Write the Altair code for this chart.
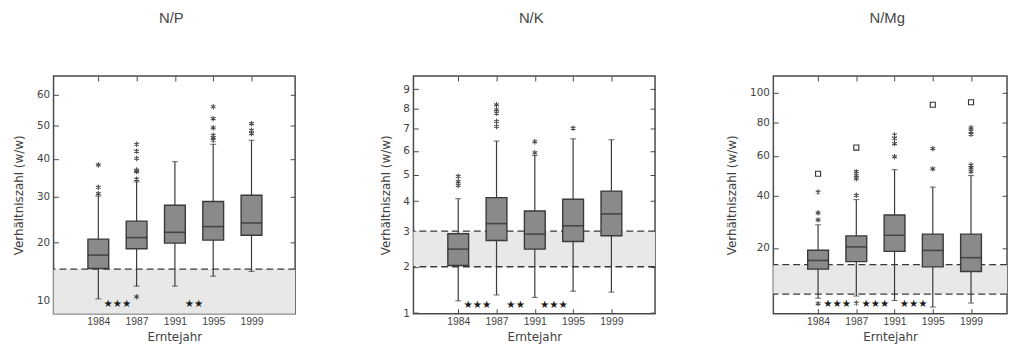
import json
import altair as alt
import pandas as pd

years = ["1984", "1987", "1991", "1995", "1999"]

# ---------------- N/P ----------------
np_q1 = [15.1, 18.7, 19.8, 20.4, 21.4]
np_med = [17.5, 20.9, 22.0, 23.2, 24.0]
np_q3 = [20.6, 24.4, 28.0, 28.9, 30.4]
np_lo = [10.3, 12.2, 12.2, 13.8, 14.6]
np_hi = [30.2, 33.8, 39.2, 44.2, 45.4]
np_out_year = ["1984", "1984", "1984",
               "1987", "1987", "1987", "1987", "1987", "1987", "1987",
               "1995", "1995", "1995", "1995", "1995", "1995",
               "1999", "1999", "1999"]
np_out_val = [30.8, 32.4, 38.3,
              10.6, 34.5, 36.5, 36.9, 40.1, 42.2, 44.2,
              45.4, 46.1, 46.9, 49.2, 52.1, 56.0,
              47.4, 48.4, 50.5]
np_ext_year = []
np_ext_val = []
np_band = [8.3, 15]
np_ref = [15]
np_sig_from = ["1984", "1991"]
np_sig_to = ["1987", "1995"]
np_sig = ["★★★", "★★"]
np_sig_y = 9.6
np_domain = [8.3, 66.7]
np_ticks = [10, 20, 30, 40, 50, 60]

# ---------------- N/K ----------------
nk_q1 = [2.03, 2.72, 2.47, 2.69, 2.86]
nk_med = [2.47, 3.24, 2.91, 3.17, 3.56]
nk_q3 = [2.92, 4.13, 3.66, 4.07, 4.37]
nk_lo = [1.23, 1.35, 1.30, 1.43, 1.41]
nk_hi = [4.09, 6.44, 5.80, 6.54, 6.50]
nk_out_year = ["1984", "1984", "1984",
               "1987", "1987", "1987", "1987", "1987",
               "1991", "1991",
               "1995"]
nk_out_val = [4.58, 4.73, 4.94,
              7.12, 7.36, 7.77, 7.94, 8.19,
              5.92, 6.41,
              7.04]
nk_ext_year = []
nk_ext_val = []
nk_band = [2, 3]
nk_ref = [2, 3]
nk_sig_from = ["1984", "1987", "1991"]
nk_sig_to = ["1987", "1991", "1995"]
nk_sig = ["★★★", "★★", "★★★"]
nk_sig_y = 1.15
nk_domain = [0.99, 9.73]
nk_ticks = [1, 2, 3, 4, 5, 6, 7, 8, 9]

# ---------------- N/Mg ----------------
nm_q1 = [13.8, 15.85, 18.9, 14.4, 13.2]
nm_med = [16.2, 20.3, 24.2, 19.2, 17.0]
nm_q3 = [19.25, 24.0, 31.8, 24.6, 24.6]
nm_lo = [7.2, 7.6, 6.75, 5.6, 6.3]
nm_hi = [28.0, 38.3, 52.6, 44.0, 49.6]
nm_out_year = ["1984", "1984", "1984", "1984",
               "1987", "1987", "1987", "1987", "1987",
               "1991", "1991", "1991", "1991",
               "1995", "1995",
               "1999", "1999", "1999", "1999", "1999", "1999"]
nm_out_val = [6.2, 29.9, 32.7, 41.7,
              6.3, 40.2, 48.0, 49.6, 51.6,
              59.5, 66.9, 70.0, 72.0,
              53.0, 64.0,
              51.6, 53.5, 55.0, 72.4, 74.4, 76.4]
nm_ext_year = ["1984", "1987", "1995", "1999"]
nm_ext_val = [50.5, 64.6, 91.4, 93.1]
nm_band = [8, 15]
nm_ref = [8, 15]
nm_sig_from = ["1984", "1987", "1991"]
nm_sig_to = ["1987", "1991", "1995"]
nm_sig = ["★★★", "★★★", "★★★"]
nm_sig_y = 6.1
nm_domain = [4.55, 112]
nm_ticks = [20, 40, 60, 80, 100]

# ---------------- styling ----------------
FONT = "Liberation Sans"
TFONT = "DejaVu Sans"
INK = "#3a3a3a"
TXT = "#3f3f3f"
BOX_FILL = "#8a8a8a"
BAND_FILL = "#e8e8e8"
STEP = 40.33
X0 = -0.04
PANEL_H = 240
ASTERISK = "M0,-1L0,1M-0.87,-0.5L0.87,0.5M-0.87,0.5L0.87,-0.5"


def make_panel(title, q1, med, q3, lo, hi, out_year, out_val, ext_year, ext_val,
               band, refs, sig_from, sig_to, sig_txt, sig_y, ydomain, yticks, width):
    idx = {y: i + 1 for i, y in enumerate(years)}
    box = pd.DataFrame({"i": [idx[y] for y in years], "q1": q1, "med": med,
                        "q3": q3, "lo": lo, "hi": hi})
    caps = pd.DataFrame({"i": [idx[y] for y in years] * 2, "v": list(lo) + list(hi)})
    outs = pd.DataFrame({"i": [idx[y] for y in out_year], "v": out_val})
    exts = pd.DataFrame({"i": [idx[y] for y in ext_year], "v": ext_val})
    band_df = pd.DataFrame({"lo": [band[0]], "hi": [band[1]]})
    ref_df = pd.DataFrame({"v": refs})
    sig_df = pd.DataFrame({"i": [(idx[a] + idx[b]) / 2 for a, b in zip(sig_from, sig_to)],
                           "v": [sig_y] * len(sig_txt), "t": sig_txt})

    ys = alt.Scale(type="sqrt", domain=ydomain, nice=False, zero=False)
    xs = alt.Scale(domain=[X0, X0 + width / STEP], nice=False, zero=False)
    label_expr = json.dumps(years).replace('"', "'") + "[datum.value - 1]"

    ax_left = alt.Axis(values=yticks, orient="left", title="Verhältniszahl (w/w)",
                       domain=False, grid=False, tickSize=5, offset=-5,
                       labelFont=TFONT, labelFontSize=10.5,
                       labelPadding=4, titlePadding=11, format="d")
    ax_right = alt.Axis(values=yticks, orient="right", title=None, labels=False,
                        domain=False, grid=False, tickSize=5, offset=-5)
    ax_bottom = alt.Axis(values=[1, 2, 3, 4, 5], orient="bottom", title="Erntejahr",
                         labelExpr=label_expr, domain=False, grid=False,
                         labelFont=FONT, labelFontSize=10.5,
                         tickSize=5, offset=-5, labelPadding=3, titlePadding=5)
    ax_top = alt.Axis(values=[1, 2, 3, 4, 5], orient="top", title=None, labels=False,
                      domain=False, grid=False, tickSize=5, offset=-5)

    band_l = alt.Chart(band_df).mark_rect(color=BAND_FILL).encode(
        y=alt.Y("lo:Q", scale=ys, axis=None), y2="hi:Q")
    ref_l = alt.Chart(ref_df).mark_rule(strokeDash=[7, 4], color=INK, strokeWidth=1.3).encode(
        y=alt.Y("v:Q", scale=ys, axis=None))
    whisk = alt.Chart(box).mark_rule(color=INK, strokeWidth=1.2).encode(
        x=alt.X("i:Q", scale=xs, axis=ax_top),
        y=alt.Y("lo:Q", scale=ys, axis=ax_right), y2="hi:Q")
    cap_l = alt.Chart(caps).mark_tick(orient="horizontal", size=6, thickness=1.1, color=INK).encode(
        x=alt.X("i:Q", scale=xs, axis=None), y=alt.Y("v:Q", scale=ys, axis=None))
    box_l = alt.Chart(box).mark_bar(size=21, orient="vertical", color=BOX_FILL,
                                    stroke=INK, strokeWidth=1.4).encode(
        x=alt.X("i:Q", scale=xs, axis=ax_bottom),
        y=alt.Y("q1:Q", scale=ys, axis=ax_left), y2="q3:Q")
    med_l = alt.Chart(box).mark_tick(orient="horizontal", size=21, thickness=1.6, color="#2a2a2a").encode(
        x=alt.X("i:Q", scale=xs, axis=None), y=alt.Y("med:Q", scale=ys, axis=None))
    out_l = alt.Chart(outs).mark_point(shape=ASTERISK, size=30, filled=False,
                                       stroke="#4a4a4a", strokeWidth=1.1, opacity=1).encode(
        x=alt.X("i:Q", scale=xs, axis=None), y=alt.Y("v:Q", scale=ys, axis=None))
    ext_l = alt.Chart(exts).mark_point(shape="square", size=26, filled=False,
                                       stroke="#333333", strokeWidth=1.1, opacity=1).encode(
        x=alt.X("i:Q", scale=xs, axis=None), y=alt.Y("v:Q", scale=ys, axis=None))
    sig_l = alt.Chart(sig_df).mark_text(font=TFONT, fontSize=10.5, color="#1a1a1a",
                                        baseline="middle").encode(
        x=alt.X("i:Q", scale=xs, axis=None), y=alt.Y("v:Q", scale=ys, axis=None),
        text="t:N")

    layers = [band_l, ref_l, whisk, cap_l, box_l, med_l, out_l]
    if len(ext_val):
        layers.append(ext_l)
    layers.append(sig_l)
    return alt.layer(*layers).resolve_axis(x="independent", y="independent").properties(
        width=width, height=PANEL_H,
        title=alt.TitleParams(text=title, font=FONT, fontSize=15, fontWeight="normal",
                              color="#474747", offset=50, anchor="middle", dx=-3))


p1 = make_panel("N/P", np_q1, np_med, np_q3, np_lo, np_hi, np_out_year, np_out_val,
                np_ext_year, np_ext_val, np_band, np_ref, np_sig_from, np_sig_to, np_sig,
                np_sig_y, np_domain, np_ticks, 244)
p2 = make_panel("N/K", nk_q1, nk_med, nk_q3, nk_lo, nk_hi, nk_out_year, nk_out_val,
                nk_ext_year, nk_ext_val, nk_band, nk_ref, nk_sig_from, nk_sig_to, nk_sig,
                nk_sig_y, nk_domain, nk_ticks, 244)
p3 = make_panel("N/Mg", nm_q1, nm_med, nm_q3, nm_lo, nm_hi, nm_out_year, nm_out_val,
                nm_ext_year, nm_ext_val, nm_band, nm_ref, nm_sig_from, nm_sig_to, nm_sig,
                nm_sig_y, nm_domain, nm_ticks, 236)

chart = alt.hconcat(p1, p2, p3, spacing=119.5, bounds="flush").properties(
    padding={"left": 3, "top": 0, "right": 0, "bottom": 0}
).configure_view(stroke="#4a4a4a", strokeWidth=1.5).configure_axis(
    labelColor=TXT,
    titleFont=TFONT, titleFontSize=12, titleFontWeight="normal", titleColor=TXT,
    tickColor="#4a4a4a", tickWidth=1
)

chart.save("out.html", embed_options={"renderer": "svg", "actions": False})
